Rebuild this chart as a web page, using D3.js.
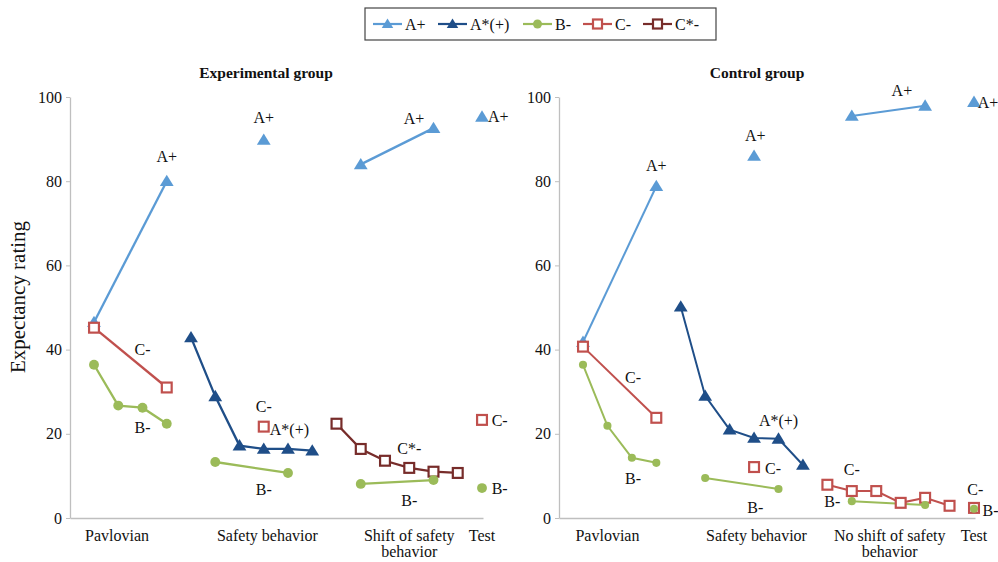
<!DOCTYPE html>
<html>
<head>
<meta charset="utf-8">
<script src="https://cdn.jsdelivr.net/npm/d3@7"></script>
<style>
  html, body { margin: 0; padding: 0; background: #fff; }
  svg { display: block; }
  svg text { font-family: "Liberation Serif", "Times New Roman", serif; }
</style>
</head>
<body>
<svg id="chart" width="998" height="562"></svg>
<script>
// ---------- data ----------
const seriesNames = ["A+", "A*(+)", "B-", "C-", "C*-"];
const slotPhase = [0,0,0,0, 1,1,1,1,1,1, 2,2,2,2,2,2, 3];
const yTicks = [0, 20, 40, 60, 80, 100];

const expAplus = [46.5,null,null,80.0, null,null,null,89.8,null,null, null,84.0,null,null,92.6,null, 95.3];
const expAstar = [null,null,null,null, 42.9,28.9,17.2,16.4,16.4,16.0, null,null,null,null,null,null, null];
const expB     = [36.4,26.7,26.2,22.4, null,13.3,null,null,10.7,null, null,8.1,null,null,9.0,null, 7.1];
const expC     = [45.2,null,null,31.0, null,null,null,21.7,null,null, null,null,null,null,null,null, 23.3];
const expCstar = [null,null,null,null, null,null,null,null,null,null, 22.4,16.4,13.6,11.9,11.0,10.7, null];

const ctlAplus = [41.8,null,null,78.8, null,null,null,86.0,null,null, null,95.5,null,null,97.9,null, 98.8];
const ctlAstar = [null,null,null,null, 50.2,29.0,21.0,19.0,18.8,12.6, null,null,null,null,null,null, null];
const ctlB     = [36.4,21.9,14.3,13.1, null,9.5,null,null,6.9,null, null,4.0,null,null,3.1,null, 2.2];
const ctlC     = [40.7,null,null,23.8, null,null,null,12.1,null,null, 7.9,6.4,6.4,3.6,4.8,2.9, 2.4];
const ctlCstar = [null,null,null,null, null,null,null,null,null,null, null,null,null,null,null,null, null];

const expTitle = "Experimental group";
const ctlTitle = "Control group";
const expPhaseLabels = [["Pavlovian"], ["Safety behavior"], ["Shift of safety", "behavior"], ["Test"]];
const ctlPhaseLabels = [["Pavlovian"], ["Safety behavior"], ["No shift of safety", "behavior"], ["Test"]];
const expPhaseLabelSlot = [0.95, 7.15, 13.0, 16.0];
const ctlPhaseLabelSlot = [1.0, 7.1, 12.55, 16.0];

// data labels: [text, slot, value, anchor]
const expLabels = [
  ["A+", 3, 86, "middle"], ["A+", 7, 95.2, "middle"], ["A+", 13.2, 94.8, "middle"], ["A+", 16.25, 95.3, "start"],
  ["C-", 2, 40, "middle"], ["B-", 2, 21.5, "middle"],
  ["C-", 7, 26.5, "middle"], ["A*(+)", 7.25, 21.0, "start"], ["B-", 7, 6.7, "middle"],
  ["C*-", 13, 16.6, "middle"], ["B-", 13, 4.2, "middle"],
  ["C-", 16.4, 23.3, "start"], ["B-", 16.4, 7.1, "start"]
];
const ctlLabels = [
  ["A+", 3, 83.8, "middle"], ["A+", 7.05, 90.9, "middle"], ["A+", 13.05, 101.5, "middle"], ["A+", 16.15, 98.6, "start"],
  ["C-", 2.05, 33.4, "middle"], ["B-", 2.05, 9.4, "middle"],
  ["A*(+)", 8, 23.3, "middle"], ["C-", 7.45, 11.7, "start"], ["B-", 7.05, 2.6, "middle"],
  ["C-", 11, 11.5, "middle"], ["B-", 10.2, 3.9, "middle"],
  ["C-", 16.05, 6.7, "middle"], ["B-", 16.35, 1.9, "start"]
];

// ---------- styles ----------
const FONT = "Liberation Serif";
const colors = { "A+": "#5b9bd5", "A*(+)": "#1f4e88", "B-": "#9bbb59", "C-": "#c0504d", "C*-": "#772c2a" };
const markers = { "A+": "tri", "A*(+)": "tri", "B-": "circle", "C-": "square", "C*-": "square" };

const svg = d3.select("#chart");
const y = d3.scaleLinear().domain([0, 100]).range([518, 97]);

function drawMarker(g, type, color, cx, cy, size) {
  if (type === "tri") {
    const h = size * 0.9, w = size * 1.15;
    g.append("path")
      .attr("d", `M${cx},${cy - h * 0.6}L${cx + w / 2},${cy + h * 0.45}L${cx - w / 2},${cy + h * 0.45}Z`)
      .attr("fill", color);
  } else if (type === "circle") {
    g.append("circle").attr("cx", cx).attr("cy", cy).attr("r", size * 0.45).attr("fill", color);
  } else {
    const s = size * 0.82;
    g.append("rect").attr("x", cx - s / 2).attr("y", cy - s / 2).attr("width", s).attr("height", s)
      .attr("fill", "#fff").attr("stroke", color).attr("stroke-width", 2.2);
  }
}

function panel(opts) {
  const g = svg.append("g").attr("font-family", FONT);
  const x = d3.scaleLinear().domain([0, 16]).range(opts.xRange);
  const axisX = d3.scaleLinear().domain([0, 1]).range([opts.axisLeft, opts.axisRight]);

  // y axis
  const ya = g.append("g").attr("transform", `translate(${opts.axisLeft},0)`)
    .call(d3.axisLeft(y).tickValues(yTicks).tickSize(4).tickPadding(4).tickSizeOuter(0));
  ya.attr("font-family", FONT);
  ya.select(".domain").attr("stroke", "#bfbfbf").attr("stroke-width", 1.3);
  ya.selectAll(".tick line").attr("stroke", "#bfbfbf");
  ya.selectAll(".tick text").attr("font-family", FONT).attr("font-size", 16).attr("fill", "#111");

  // x axis
  const xa = g.append("g").attr("transform", `translate(0,${y(0)})`)
    .call(d3.axisBottom(axisX).tickValues([]).tickSizeOuter(0));
  xa.select(".domain").attr("stroke", "#bfbfbf").attr("stroke-width", 1.3);

  // phase labels
  opts.phaseLabels.forEach((lines, i) => {
    const t = g.append("text").attr("x", x(opts.phaseSlots[i])).attr("y", 541)
      .attr("text-anchor", "middle").attr("font-family", FONT).attr("font-size", 16).attr("fill", "#111");
    lines.forEach((ln, j) => t.append("tspan").attr("x", x(opts.phaseSlots[i])).attr("dy", j === 0 ? 0 : 16).text(ln));
  });

  // title
  g.append("text").attr("x", opts.titleX).attr("y", 78).attr("text-anchor", "middle")
    .attr("font-family", FONT).attr("font-size", 15.5).attr("font-weight", "bold").attr("fill", "#111").text(opts.title);

  // lines
  const line = d3.line().x(d => x(d.i)).y(d => y(d.v));
  seriesNames.forEach((name, si) => {
    const vals = opts.series[si];
    const pts = vals.map((v, i) => ({ i, v })).filter(d => d.v !== null);
    const groups = d3.groups(pts, d => slotPhase[d.i]);
    groups.forEach(([ph, arr]) => {
      if (arr.length > 1) {
        g.append("path").datum(arr).attr("d", line).attr("fill", "none")
          .attr("stroke", colors[name]).attr("stroke-width", opts.lw);
      }
    });
  });
  // markers
  const order = [0, 1, 3, 4, 2];
  order.forEach(si => {
    const name = seriesNames[si];
    opts.series[si].forEach((v, i) => {
      if (v === null) return;
      drawMarker(g, markers[name], colors[name], x(i), y(v), opts.msize[markers[name]]);
    });
  });

  // labels
  opts.labels.forEach(([txt, slot, val, anchor]) => {
    g.append("text").attr("x", x(slot)).attr("y", y(val)).attr("dy", "0.35em")
      .attr("text-anchor", anchor).attr("font-family", FONT).attr("font-size", 16).attr("fill", "#111").text(txt);
  });
}

panel({
  xRange: [94, 482], axisLeft: 70, axisRight: 483, title: expTitle, titleX: 266,
  series: [expAplus, expAstar, expB, expC, expCstar],
  phaseLabels: expPhaseLabels, phaseSlots: expPhaseLabelSlot, labels: expLabels,
  lw: 2.3, msize: { tri: 12, circle: 11, square: 12 }
});
panel({
  xRange: [583, 974], axisLeft: 559, axisRight: 975, title: ctlTitle, titleX: 757,
  series: [ctlAplus, ctlAstar, ctlB, ctlC, ctlCstar],
  phaseLabels: ctlPhaseLabels, phaseSlots: ctlPhaseLabelSlot, labels: ctlLabels,
  lw: 2.0, msize: { tri: 12, circle: 9, square: 12 }
});

// y axis title
svg.append("text").attr("transform", "translate(25,297) rotate(-90)")
  .attr("text-anchor", "middle").attr("font-family", FONT).attr("font-size", 21).attr("fill", "#111").text("Expectancy rating");

// legend
const lg = svg.append("g");
lg.append("rect").attr("x", 365).attr("y", 8).attr("width", 351).attr("height", 32)
  .attr("fill", "#fff").attr("stroke", "#444").attr("stroke-width", 1.2);
const legendX = [373, 438, 523, 583, 643];
seriesNames.forEach((name, i) => {
  const lx = legendX[i];
  lg.append("line").attr("x1", lx).attr("x2", lx + 29).attr("y1", 24).attr("y2", 24)
    .attr("stroke", colors[name]).attr("stroke-width", 2.2);
  drawMarker(lg, markers[name], colors[name], lx + 14.5, 24, markers[name] === "square" ? 11 : 10);
  lg.append("text").attr("x", lx + 32).attr("y", 24).attr("dy", "0.35em")
    .attr("font-family", FONT).attr("font-size", 16).attr("fill", "#111").text(name);
});
</script>
</body>
</html>
